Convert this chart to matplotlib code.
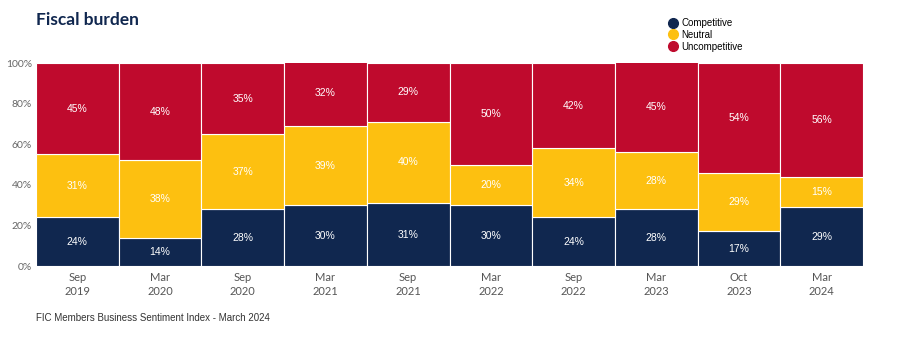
import matplotlib
matplotlib.use("Agg")
import matplotlib.pyplot as plt
from matplotlib.lines import Line2D

periods = ["Sep\n2019", "Mar\n2020", "Sep\n2020", "Mar\n2021", "Sep\n2021",
           "Mar\n2022", "Sep\n2022", "Mar\n2023", "Oct\n2023", "Mar\n2024"]
competitive = [24, 14, 28, 30, 31, 30, 24, 28, 17, 29]
neutral = [31, 38, 37, 39, 40, 20, 34, 28, 29, 15]
uncompetitive = [45, 48, 35, 32, 29, 50, 42, 45, 54, 56]
series_names = ["Competitive", "Neutral", "Uncompetitive"]
colors = ["#10274f", "#fdc010", "#bf0a2d"]

plt.rcParams['font.family'] = ['Lato', 'DejaVu Sans']

fig = plt.figure(figsize=(9, 3.38), dpi=100)
ax = fig.add_axes([0.04, 0.213, 0.919, 0.6006])

x = list(range(len(periods)))
bottom = [0] * len(periods)
for vals, col in zip([competitive, neutral, uncompetitive], colors):
    ax.bar(x, vals, width=1.0, bottom=bottom, color=col, edgecolor="white", linewidth=0.8)
    for xi, v, b in zip(x, vals, bottom):
        ax.text(xi, b + v / 2, f"{v}%", ha="center", va="center", color="white", fontsize=7.5,
                family=["Liberation Sans", "DejaVu Sans"])
    bottom = [b + v for b, v in zip(bottom, vals)]

ax.set_xlim(-0.5, len(periods) - 0.5)
ax.set_ylim(0, 100)
ax.set_yticks([0, 20, 40, 60, 80, 100])
ax.set_yticklabels([f"{t}%" for t in [0, 20, 40, 60, 80, 100]], color="#666666", fontsize=7.5)
ax.set_xticks(x)
ax.set_xticklabels(periods, color="#555555", fontsize=8, linespacing=1.35)
ax.tick_params(axis="x", length=0, pad=4)
ax.tick_params(axis="y", length=0, pad=3)
for s in ax.spines.values():
    s.set_visible(False)

fig.text(0.04, 0.94, "Fiscal burden", fontsize=12.5, fontweight="bold", color="#10274f", va="center")

handles = [Line2D([0], [0], marker="o", linestyle="", markersize=7, markerfacecolor=c,
                  markeredgecolor=c) for c in colors]
fig.legend(handles, series_names, loc="upper left", bbox_to_anchor=(0.742, 0.947),
           frameon=False, handletextpad=0.4, labelspacing=0.2,
           handlelength=1.0, borderpad=0, borderaxespad=0,
           prop={"family": ["Liberation Sans", "DejaVu Sans"], "size": 7})

fig.text(0.04, 0.06, "FIC Members Business Sentiment Index - March 2024", fontsize=7,
         color="#333333", va="center", family=["Liberation Sans", "DejaVu Sans"])

fig.savefig("out.png", dpi=100, facecolor="white")
